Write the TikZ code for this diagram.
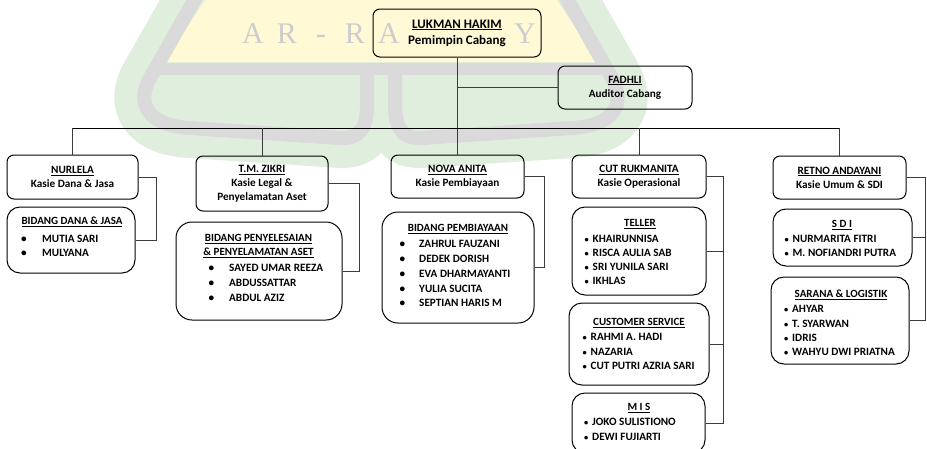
\documentclass[tikz,border=0pt]{standalone}
\usepackage{graphicx}
\usepackage{fontspec}
\setmainfont{Carlito}
\newfontfamily\wmfont{Liberation Serif}
\usetikzlibrary{calc}
\definecolor{wmgreen}{RGB}{224,238,221}
\definecolor{wmyellow}{RGB}{255,249,214}
\definecolor{wmgray}{RGB}{218,218,218}
\definecolor{wmtext}{RGB}{205,205,205}
\definecolor{lineg}{RGB}{60,60,60}
\newcommand{\orgbox}[7]{\node[#6, minimum width={#4-#2}, minimum height={#5-#3}] (#1) at ({(#2+#4)/2},{(#3+#5)/2}) {#7};}
\newcommand{\wb}[2]{\makebox[#1][l]{\textbullet}#2}
\newcommand{\smb}[1]{\makebox[8pt][l]{\scalebox{0.75}{\textbullet}}#1}
\begin{document}
\begin{tikzpicture}[x=1pt,y=-1pt,
  box/.style={draw=black, line width=1pt, rounded corners=7pt, inner sep=0pt, font=\fontsize{11.2}{14}\selectfont\bfseries, align=center},
  lbox/.style={box, rounded corners=13pt},
  conn/.style={draw=lineg, line width=1pt},
  hdr/.style={inner sep=0pt, font=\fontsize{11}{14}\selectfont\bfseries, align=center},
  lst/.style={inner sep=0pt, font=\fontsize{11.2}{#1}\selectfont\bfseries, align=left, anchor=west},
  lst/.default=14.2,
  wm/.style={inner sep=0pt, text=wmtext, font=\wmfont\fontsize{30}{30}\selectfont}
]
\useasboundingbox (0,0) rectangle (927,448);
% ---------- watermark ----------
\def\lobes{(200,-10) -- (150,78) .. controls (135,105) and (150,126) .. (190,128) -- (340,138) .. controls (362,139) and (367,125) .. (367,105) -- (367,69) -- (395,69) -- (395,105) .. controls (395,125) and (400,139) .. (422,138) -- (572,128) .. controls (612,126) and (627,105) .. (612,78) -- (562,-10)}
\draw[wmgreen, line width=60pt, line join=round] \lobes;
\fill[wmgreen] \lobes -- cycle;
\fill[wmyellow] (205,0) -- (557,0) -- (598,62) -- (164,62) -- cycle;
\draw[wmgray, line width=14pt] (200,-10) -- (150,78) .. controls (135,105) and (150,126) .. (190,128) -- (340,138) .. controls (362,139) and (367,125) .. (367,105) -- (367,69);
\draw[wmgray, line width=14pt] (562,-10) -- (612,78) .. controls (627,105) and (612,126) .. (572,128) -- (422,138) .. controls (400,139) and (395,125) .. (395,105) -- (395,69);
\draw[wmgray, line width=12pt] (160,69) -- (602,69);
\node[wm] (wmtxt) at (389,34) {\makebox[34pt]{A}\makebox[34pt]{R}\makebox[34pt]{-}\makebox[34pt]{R}\makebox[34pt]{A}\makebox[34pt]{}\makebox[34pt]{}\makebox[34pt]{}\makebox[34pt]{Y}};
% ---------- boxes ----------
\orgbox{luk}{373}{9}{541}{57}{box, font=\fontsize{13}{16}\selectfont\bfseries}{\underline{LUKMAN HAKIM}\\Pemimpin Cabang}
\orgbox{fad}{558}{66}{692}{109}{box}{\underline{FADHLI}\\Auditor Cabang}
\orgbox{nur}{7}{155}{138}{199}{box}{\underline{NURLELA}\\Kasie Dana \& Jasa}
\orgbox{zik}{196}{156}{328}{211}{box}{\underline{T.M. ZIKRI}\\Kasie Legal \&\\Penyelamatan Aset}
\orgbox{nov}{391}{155}{524}{198}{box}{\underline{NOVA ANITA}\\Kasie Pembiayaan}
\orgbox{cut}{572}{155}{706}{198}{box}{\underline{CUT RUKMANITA}\\Kasie Operasional}
\orgbox{ret}{773}{156}{906}{199}{box}{\underline{RETNO ANDAYANI}\\Kasie Umum \& SDI}
\orgbox{dana}{7}{207}{135}{273}{lbox}{}
\orgbox{peny}{176}{222}{342}{320}{lbox, rounded corners=16pt}{}
\orgbox{pemb}{382}{212}{534}{323}{lbox, rounded corners=16pt}{}
\orgbox{tel}{572}{207}{706}{295}{lbox}{}
\orgbox{cs}{569}{303}{709}{385}{lbox}{}
\orgbox{mis}{572}{393}{705}{453}{lbox}{}
\orgbox{sdi}{773}{209}{912}{266}{lbox}{}
\orgbox{sar}{771}{277}{909}{364}{lbox}{}
% ---------- box texts ----------
\node[hdr] (danah) at (72,221.7) {\underline{BIDANG DANA \& JASA}};
\node[lst=14] (danal) at (21,246.3) {\wb{21pt}{MUTIA SARI}\\\wb{21pt}{MULYANA}};
\node[hdr] (penyh) at (258.5,246.3) {\underline{BIDANG PENYELESAIAN}\\\underline{\& PENYELAMATAN ASET}};
\node[lst=15.3] (penyl) at (208.5,283) {\wb{20.5pt}{SAYED UMAR REEZA}\\\wb{20.5pt}{ABDUSSATTAR}\\\wb{20.5pt}{ABDUL AZIZ}};
\node[hdr] (pembh) at (458,229.3) {\underline{BIDANG PEMBIAYAAN}};
\node[lst=14.75] (pembl) at (399.5,273.8) {\wb{19.5pt}{ZAHRUL FAUZANI}\\\wb{19.5pt}{DEDEK DORISH}\\\wb{19.5pt}{EVA DHARMAYANTI}\\\wb{19.5pt}{YULIA SUCITA}\\\wb{19.5pt}{SEPTIAN HARIS M}};
\node[hdr] (telh) at (640,224) {\underline{TELLER}};
\node[lst=14] (tell) at (584.5,260) {\smb{KHAIRUNNISA}\\\smb{RISCA AULIA SAB}\\\smb{SRI YUNILA SARI}\\\smb{IKHLAS}};
\node[hdr] (csh) at (639,323.3) {\underline{CUSTOMER SERVICE}};
\node[lst=14.35] (csl) at (582.5,351.7) {\smb{RAHMI A. HADI}\\\smb{NAZARIA}\\\smb{CUT PUTRI AZRIA SARI}};
\node[hdr] (mish) at (639,408.3) {\underline{M I S}};
\node[lst=14.4] (misl) at (584,429.5) {\smb{JOKO SULISTIONO}\\\smb{DEWI FUJIARTI}};
\node[hdr] (sdih) at (842,225) {\underline{S D I}};
\node[lst=14] (sdil) at (784.5,246.3) {\smb{NURMARITA FITRI}\\\smb{M. NOFIANDRI PUTRA}};
\node[hdr] (sarh) at (841,295) {\underline{SARANA \& LOGISTIK}};
\node[lst=14.23] (sarl) at (784,330.7) {\smb{AHYAR}\\\smb{T. SYARWAN}\\\smb{IDRIS}\\\smb{WAHYU DWI PRIATNA}};
% ---------- connectors ----------
\coordinate (bar) at (0,128);
\draw[conn] (luk.south) -- (luk.south |- nov.north);
\draw[conn] (luk.south |- fad.west) -- (fad.west);
\draw[conn, draw=black] (nur.north |- bar) -- (ret.north |- bar);
\draw[conn] (nur.north |- bar) -- (nur.north);
\draw[conn] (zik.north |- bar) -- (zik.north);
\draw[conn] (cut.north |- bar) -- (cut.north);
\draw[conn] (ret.north |- bar) -- (ret.north);
\coordinate (bx1) at (156,0);
\coordinate (bx2) at (359,0);
\coordinate (bx3) at (544,0);
\coordinate (bx4) at (723,0);
\coordinate (bx5) at (925,0);
\draw[conn] (nur.east) -- (nur.east -| bx1) -- (dana.east -| bx1) -- (dana.east);
\draw[conn] (zik.east) -- (zik.east -| bx2) -- (peny.east -| bx2) -- (peny.east);
\draw[conn] (nov.east) -- (nov.east -| bx3) -- (pemb.east -| bx3) -- (pemb.east);
\draw[conn] (cut.east) -- (cut.east -| bx4) -- (mis.east -| bx4) -- (mis.east);
\draw[conn] (tel.east) -- (tel.east -| bx4);
\draw[conn] (cs.east) -- (cs.east -| bx4);
\draw[conn] (ret.east) -- (ret.east -| bx5) -- (sar.east -| bx5) -- (sar.east);
\draw[conn] (sdi.east) -- (sdi.east -| bx5);
\end{tikzpicture}
\end{document}
